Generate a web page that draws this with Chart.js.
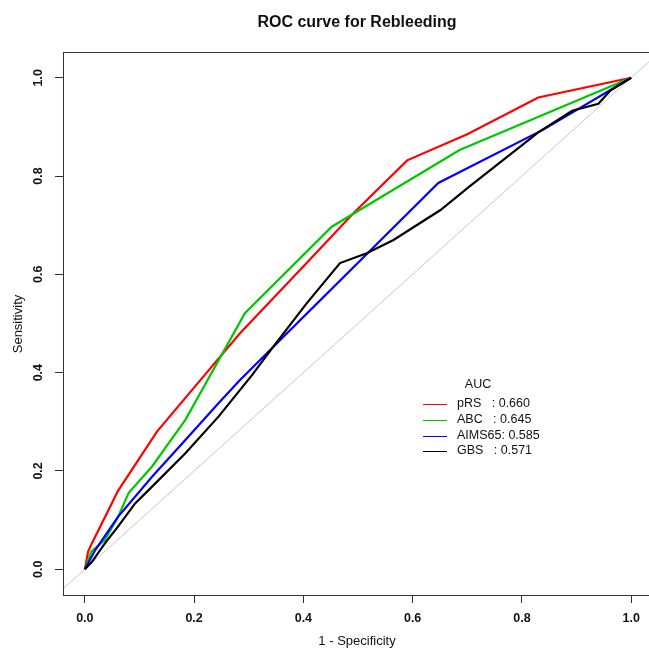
<!DOCTYPE html>
<html>
<head>
<meta charset="utf-8">
<title>ROC curve for Rebleeding</title>
<script src="https://cdn.jsdelivr.net/npm/chart.js@4.4.1/dist/chart.umd.min.js"></script>
<style>
    html, body { margin: 0; padding: 0; background: #fff; overflow: hidden; }
    #wrap { width: 649px; height: 650px; overflow: hidden; }
</style>
</head>
<body>
<div id="wrap"><canvas id="roc" width="660" height="650"></canvas></div>
<script>
// 1 - specificity / sensitivity pairs
const pRSX = [0, 0.006, 0.013, 0.061, 0.132, 0.223, 0.284, 0.406, 0.492, 0.59, 0.70, 0.83, 1];
const pRSY = [0, 0.036, 0.053, 0.16, 0.28, 0.4, 0.48, 0.623, 0.725, 0.832, 0.885, 0.96, 1];

const abcX = [0, 0.012, 0.037, 0.061, 0.08, 0.123, 0.184, 0.293, 0.452, 0.686, 1];
const abcY = [0, 0.036, 0.06, 0.107, 0.155, 0.209, 0.304, 0.521, 0.697, 0.853, 1];

const aimsX = [0, 0.019, 0.061, 0.123, 0.184, 0.245, 0.284, 0.647, 0.84, 1];
const aimsY = [0, 0.039, 0.107, 0.188, 0.263, 0.338, 0.385, 0.786, 0.895, 1];

const gbsX = [0, 0.013, 0.037, 0.061, 0.092, 0.123, 0.184, 0.245, 0.306, 0.345, 0.406, 0.467, 0.516, 0.565, 0.651, 0.702, 0.83, 0.892, 0.94, 0.962, 1];
const gbsY = [0, 0.015, 0.053, 0.087, 0.134, 0.168, 0.236, 0.311, 0.395, 0.453, 0.541, 0.623, 0.643, 0.67, 0.731, 0.777, 0.889, 0.933, 0.947, 0.974, 1];

const refX = [-0.1, 1.1];
const refY = [-0.1, 1.1];

const tickValues = [0, 0.2, 0.4, 0.6, 0.8, 1.0];
const tickLabels = ['0.0', '0.2', '0.4', '0.6', '0.8', '1.0'];
const aucLabels = ['pRS   : 0.660', 'ABC   : 0.645', 'AIMS65: 0.585', 'GBS   : 0.571'];

const FONT = '"Liberation Sans", Arial, sans-serif';
const INK = '#111';

function toPoints(xs, ys) {
    return xs.map((x, i) => ({ x: x, y: ys[i] }));
}

function curve(label, xs, ys, color, order) {
    return {
        label: label,
        data: toPoints(xs, ys),
        borderColor: color,
        backgroundColor: color,
        borderWidth: 2.2,
        pointRadius: 0,
        showLine: true,
        tension: 0,
        order: order
    };
}

// box, texts and legend in R's base-graphics look
const decorations = {
    id: 'decorations',
    afterDraw(chart) {
        const ctx = chart.ctx;
        const area = chart.chartArea;
        const xs = chart.scales.x;
        const ys = chart.scales.y;
        ctx.save();

        ctx.strokeStyle = '#333';
        ctx.lineWidth = 1;
        ctx.strokeRect(Math.round(area.left) + 0.5, Math.round(area.top) + 0.5,
            Math.round(area.right - area.left), Math.round(area.bottom - area.top));

        ctx.fillStyle = INK;
        ctx.textAlign = 'center';
        ctx.textBaseline = 'middle';
        ctx.font = 'bold 16px ' + FONT;
        ctx.fillText('ROC curve for Rebleeding', 357, 23);

        ctx.font = 'bold 12.5px ' + FONT;
        tickValues.forEach((v, i) => {
            ctx.fillText(tickLabels[i], xs.getPixelForValue(v), 619);
        });
        tickValues.forEach((v, i) => {
            ctx.save();
            ctx.translate(39, ys.getPixelForValue(v));
            ctx.rotate(-Math.PI / 2);
            ctx.fillText(tickLabels[i], 0, 0);
            ctx.restore();
        });

        ctx.font = '13px ' + FONT;
        ctx.fillText('1 - Specificity', 357, 641);
        ctx.save();
        ctx.translate(18, 324);
        ctx.rotate(-Math.PI / 2);
        ctx.fillText('Sensitivity', 0, 0);
        ctx.restore();

        // legend
        ctx.font = '12.5px ' + FONT;
        ctx.fillText('AUC', 478, 385);
        ctx.textAlign = 'left';
        const rows = [404, 420, 436, 451];
        aucLabels.forEach((txt, i) => {
            const ds = chart.data.datasets[i];
            ctx.strokeStyle = ds.borderColor;
            ctx.lineWidth = 1;
            ctx.beginPath();
            ctx.moveTo(423, rows[i] + 0.5);
            ctx.lineTo(447, rows[i] + 0.5);
            ctx.stroke();
            ctx.fillStyle = INK;
            ctx.fillText(txt, 457, rows[i]);
        });
        ctx.restore();
    }
};

new Chart(document.getElementById('roc'), {
    type: 'scatter',
    data: {
        datasets: [
            curve('pRS', pRSX, pRSY, '#ff0000', 4),
            curve('ABC', abcX, abcY, '#00c800', 3),
            curve('AIMS65', aimsX, aimsY, '#0000ff', 2),
            curve('GBS', gbsX, gbsY, '#000000', 1),
            {
                label: 'reference',
                data: toPoints(refX, refY),
                borderColor: '#c8c8c8',
                borderWidth: 1,
                pointRadius: 0,
                showLine: true,
                order: 5
            }
        ]
    },
    options: {
        responsive: false,
        animation: false,
        devicePixelRatio: 1,
        layout: { padding: { top: 52, right: 7, left: 0, bottom: 0 } },
        plugins: {
            legend: { display: false },
            title: { display: false },
            tooltip: { enabled: false }
        },
        scales: {
            x: {
                type: 'linear',
                min: -0.04,
                max: 1.04,
                afterBuildTicks: (scale) => { scale.ticks = tickValues.map(v => ({ value: v })); },
                afterFit: (scale) => { scale.height = 55; },
                ticks: { display: false },
                border: { display: false },
                grid: { drawOnChartArea: false, drawTicks: true, tickLength: 8, color: '#333' }
            },
            y: {
                type: 'linear',
                min: -0.0525,
                max: 1.0525,
                afterBuildTicks: (scale) => { scale.ticks = tickValues.map(v => ({ value: v })); },
                afterFit: (scale) => { scale.width = 63; },
                ticks: { display: false },
                border: { display: false },
                grid: { drawOnChartArea: false, drawTicks: true, tickLength: 8, color: '#333' }
            }
        }
    },
    plugins: [decorations]
});
</script>
</body>
</html>
